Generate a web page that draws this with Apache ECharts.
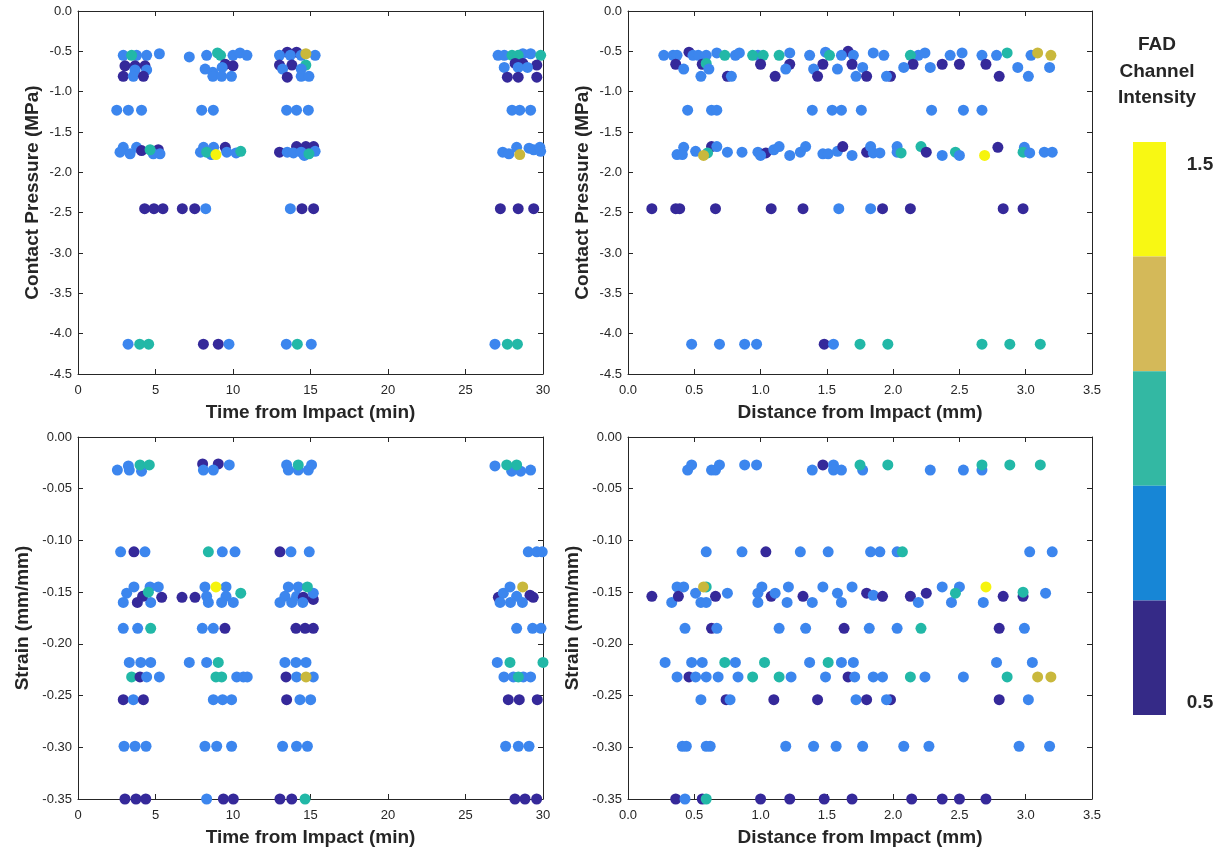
<!DOCTYPE html>
<html>
<head>
<meta charset="utf-8">
<script src="https://cdn.jsdelivr.net/npm/echarts@6/dist/echarts.min.js"></script>
<style>
  html, body { margin: 0; padding: 0; background: #ffffff; }
  #chart { width: 1222px; height: 856px; }
</style>
</head>
<body>
<div id="chart"></div>
<script>
// Each point: [x, y, FAD channel intensity]

// Contact pressure (MPa) against time from impact (min)
const pressureByTime = [
  [2.92,-0.55,0.8],[3.78,-0.55,0.8],[4.43,-0.55,0.8],[5.25,-0.53,0.8],[3.46,-0.55,1.0],
  [3.03,-0.68,0.6],[3.68,-0.68,0.6],[4.32,-0.68,0.6],
  [3.68,-0.73,0.8],[4.43,-0.73,0.8],
  [2.92,-0.81,0.6],[3.57,-0.81,0.8],[4.22,-0.81,0.6],
  [7.18,-0.57,0.8],[8.3,-0.55,0.8],[10.0,-0.55,0.8],[10.45,-0.52,0.8],[10.9,-0.55,0.8],[9.0,-0.52,1.0],[9.2,-0.55,1.0],
  [9.5,-0.66,0.6],[10.0,-0.68,0.6],
  [8.2,-0.72,0.8],[8.7,-0.76,0.8],[9.3,-0.7,0.8],
  [8.7,-0.81,0.8],[9.27,-0.81,0.8],[9.9,-0.81,0.8],
  [13.5,-0.51,0.6],[14.1,-0.51,0.6],[13.0,-0.55,0.8],[13.7,-0.55,0.8],[14.4,-0.55,0.8],[15.3,-0.55,0.8],[14.7,-0.53,1.2],
  [13.0,-0.67,0.6],[13.8,-0.67,0.6],[14.7,-0.67,1.0],
  [13.2,-0.72,0.8],[14.4,-0.72,0.8],
  [13.5,-0.82,0.6],[14.4,-0.81,0.8],[14.9,-0.81,0.8],
  [27.1,-0.55,0.8],[27.5,-0.55,0.8],[28.7,-0.53,0.8],[29.2,-0.53,0.8],[28.0,-0.55,1.0],[28.4,-0.55,1.0],[29.85,-0.55,1.0],
  [28.2,-0.65,0.6],[28.7,-0.65,0.6],[29.6,-0.67,0.6],
  [27.5,-0.7,0.8],[28.4,-0.7,0.8],[29.0,-0.7,0.8],
  [27.7,-0.82,0.6],[28.4,-0.82,0.6],[29.6,-0.82,0.6],
  [2.5,-1.23,0.8],[3.25,-1.23,0.8],[4.1,-1.23,0.8],[7.98,-1.23,0.8],[8.73,-1.23,0.8],
  [13.46,-1.23,0.8],[14.1,-1.23,0.8],[14.86,-1.23,0.8],[28.0,-1.23,0.8],[28.5,-1.23,0.8],[29.2,-1.23,0.8],
  [2.92,-1.69,0.8],[3.78,-1.69,0.8],[2.71,-1.75,0.8],[3.36,-1.77,0.8],[4.1,-1.73,0.6],[5.18,-1.72,0.6],
  [4.86,-1.77,0.8],[5.29,-1.77,0.8],[4.65,-1.72,1.0],
  [8.1,-1.69,0.8],[8.75,-1.69,0.8],[9.5,-1.69,0.6],[7.9,-1.75,0.8],[8.6,-1.78,0.8],[9.6,-1.75,0.8],
  [10.2,-1.76,0.8],[8.3,-1.75,1.0],[10.5,-1.74,1.0],[8.9,-1.78,1.4],
  [13.0,-1.75,0.6],[14.1,-1.68,0.6],[14.7,-1.68,0.6],[15.2,-1.68,0.6],[13.5,-1.75,0.8],[13.9,-1.76,0.8],
  [14.4,-1.75,0.8],[14.6,-1.79,0.8],[15.3,-1.74,0.8],[14.9,-1.77,1.0],
  [27.4,-1.75,0.8],[27.8,-1.77,0.8],[28.3,-1.69,0.8],[29.1,-1.7,0.8],[29.4,-1.72,0.8],[29.8,-1.69,0.8],
  [29.85,-1.74,0.8],[28.5,-1.78,1.2],
  [4.3,-2.45,0.6],[4.9,-2.45,0.6],[5.48,-2.45,0.6],[6.73,-2.45,0.6],[7.53,-2.45,0.6],[8.24,-2.45,0.8],
  [13.7,-2.45,0.8],[14.45,-2.45,0.6],[15.2,-2.45,0.6],[27.25,-2.45,0.6],[28.4,-2.45,0.6],[29.4,-2.45,0.6],
  [3.23,-4.13,0.8],[3.98,-4.13,1.0],[4.56,-4.13,1.0],[8.09,-4.13,0.6],[9.05,-4.13,0.6],[9.74,-4.13,0.8],
  [13.44,-4.13,0.8],[14.15,-4.13,1.0],[15.05,-4.13,0.8],[26.9,-4.13,0.8],[27.7,-4.13,1.0],[28.35,-4.13,1.0]
];

// Contact pressure (MPa) against distance from impact (mm)
const pressureByDistance = [
  [0.27,-0.55,0.8],[0.34,-0.55,0.8],[0.37,-0.55,0.8],[0.46,-0.51,0.6],[0.49,-0.55,0.8],[0.53,-0.55,0.8],
  [0.59,-0.55,0.8],[0.67,-0.52,0.8],[0.73,-0.55,1.0],[0.81,-0.55,0.8],[0.84,-0.52,0.8],[0.98,-0.55,0.8],
  [0.94,-0.55,1.0],[1.02,-0.55,1.0],[1.14,-0.55,1.0],[1.22,-0.52,0.8],[1.37,-0.55,0.8],[1.49,-0.51,0.8],
  [1.52,-0.55,1.0],[1.66,-0.5,0.6],[1.61,-0.55,0.8],[1.70,-0.55,0.8],
  [0.36,-0.66,0.6],[0.56,-0.66,0.6],[1.0,-0.66,0.6],[1.22,-0.66,0.6],[1.47,-0.66,0.6],[1.69,-0.66,0.6],[0.59,-0.65,1.0],
  [0.42,-0.72,0.8],[0.61,-0.72,0.8],[1.19,-0.72,0.8],[1.40,-0.72,0.8],[1.58,-0.72,0.8],
  [0.55,-0.81,0.8],[0.75,-0.81,0.6],[0.78,-0.81,0.8],[1.11,-0.81,0.6],[1.43,-0.81,0.6],[1.72,-0.81,0.8],
  [1.85,-0.52,0.8],[1.93,-0.55,0.8],[2.19,-0.55,0.8],[2.13,-0.55,1.0],[2.24,-0.52,0.8],[2.43,-0.55,0.8],
  [2.52,-0.52,0.8],[2.67,-0.55,0.8],[2.78,-0.55,0.8],[2.86,-0.52,1.0],[3.04,-0.55,0.8],[3.09,-0.52,1.2],[3.19,-0.55,1.2],
  [2.15,-0.66,0.6],[2.37,-0.66,0.6],[2.50,-0.66,0.6],[2.70,-0.66,0.6],
  [1.77,-0.7,0.8],[2.08,-0.7,0.8],[2.28,-0.7,0.8],[2.94,-0.7,0.8],[3.18,-0.7,0.8],
  [1.80,-0.81,0.6],[1.98,-0.81,0.6],[1.95,-0.81,0.8],[2.80,-0.81,0.6],[3.02,-0.81,0.8],
  [0.45,-1.23,0.8],[0.63,-1.23,0.8],[0.67,-1.23,0.8],[1.39,-1.23,0.8],[1.54,-1.23,0.8],[1.61,-1.23,0.8],
  [1.76,-1.23,0.8],[2.29,-1.23,0.8],[2.53,-1.23,0.8],[2.67,-1.23,0.8],
  [0.42,-1.69,0.8],[0.37,-1.78,0.8],[0.41,-1.78,0.8],[0.51,-1.74,0.8],[0.63,-1.68,0.6],[0.67,-1.68,0.8],
  [0.60,-1.76,1.0],[0.57,-1.79,1.2],[0.75,-1.75,0.8],[0.86,-1.75,0.8],[0.98,-1.75,0.8],[1.04,-1.76,0.6],
  [1.0,-1.79,0.8],[1.10,-1.72,0.8],[1.14,-1.68,0.8],[1.22,-1.79,0.8],[1.30,-1.75,0.8],[1.34,-1.68,0.8],
  [1.47,-1.77,0.8],[1.51,-1.77,0.8],[1.58,-1.74,0.8],[1.62,-1.68,0.6],[1.69,-1.79,0.8],
  [1.80,-1.75,0.6],[1.83,-1.68,0.8],[1.85,-1.76,0.8],[1.90,-1.76,0.8],[2.03,-1.68,0.8],[2.03,-1.75,0.8],
  [2.06,-1.76,1.0],[2.21,-1.68,1.0],[2.25,-1.75,0.6],[2.37,-1.79,0.8],[2.47,-1.75,1.0],[2.50,-1.79,0.8],
  [2.69,-1.79,1.4],[2.79,-1.69,0.6],[2.99,-1.69,0.8],[2.98,-1.75,1.0],[3.03,-1.76,0.8],[3.14,-1.75,0.8],[3.20,-1.75,0.8],
  [0.18,-2.45,0.6],[0.36,-2.45,0.6],[0.39,-2.45,0.6],[0.66,-2.45,0.6],[1.08,-2.45,0.6],[1.32,-2.45,0.6],
  [1.59,-2.45,0.8],[1.83,-2.45,0.8],[1.92,-2.45,0.6],[2.13,-2.45,0.6],[2.83,-2.45,0.6],[2.98,-2.45,0.6],
  [0.48,-4.13,0.8],[0.69,-4.13,0.8],[0.88,-4.13,0.8],[0.97,-4.13,0.8],[1.48,-4.13,0.6],[1.55,-4.13,0.8],
  [1.75,-4.13,1.0],[1.96,-4.13,1.0],[2.67,-4.13,1.0],[2.88,-4.13,1.0],[3.11,-4.13,1.0]
];

// Strain (mm/mm) against time from impact (min)
const strainByTime = [
  [2.54,-0.032,0.8],[3.25,-0.028,0.8],[3.31,-0.032,0.8],[4.1,-0.033,0.8],[4.0,-0.027,1.0],[4.6,-0.027,1.0],
  [8.04,-0.026,0.6],[9.05,-0.026,0.6],[8.09,-0.032,0.8],[8.73,-0.032,0.8],[9.76,-0.027,0.8],
  [13.46,-0.027,0.8],[13.57,-0.032,0.8],[14.21,-0.032,0.8],[14.86,-0.032,0.8],[15.07,-0.027,0.8],[14.21,-0.027,1.0],
  [26.9,-0.028,0.8],[27.98,-0.033,0.8],[28.56,-0.033,0.8],[29.2,-0.032,0.8],[27.66,-0.027,1.0],[28.3,-0.027,1.0],
  [2.75,-0.111,0.8],[3.61,-0.111,0.6],[4.32,-0.111,0.8],[8.41,-0.111,1.0],[9.31,-0.111,0.8],[10.13,-0.111,0.8],
  [13.03,-0.111,0.6],[13.74,-0.111,0.8],[14.92,-0.111,0.8],[29.05,-0.111,0.8],[29.6,-0.111,0.8],[29.95,-0.111,0.8],
  [3.61,-0.145,0.8],[4.65,-0.145,0.8],[5.18,-0.145,0.8],[3.14,-0.151,0.8],[2.92,-0.160,0.8],[4.69,-0.160,0.8],
  [4.17,-0.154,0.6],[5.4,-0.155,0.6],[3.83,-0.160,0.6],[4.54,-0.150,1.0],
  [6.71,-0.155,0.6],[7.55,-0.155,0.6],[8.19,-0.145,0.8],[9.55,-0.145,0.8],[8.3,-0.154,0.8],[9.55,-0.154,0.8],
  [8.41,-0.160,0.8],[9.27,-0.160,0.8],[10.02,-0.160,0.8],[10.5,-0.151,1.0],[8.9,-0.145,1.4],
  [13.57,-0.145,0.8],[14.21,-0.145,0.8],[13.35,-0.154,0.8],[14.1,-0.154,0.8],[14.54,-0.155,0.6],[15.18,-0.157,0.6],
  [15.18,-0.151,0.8],[13.03,-0.160,0.8],[13.79,-0.160,0.8],[14.5,-0.160,0.8],[14.8,-0.145,1.0],
  [27.12,-0.155,0.6],[27.44,-0.151,0.8],[27.87,-0.145,0.8],[28.3,-0.154,0.8],[29.16,-0.153,0.6],[29.37,-0.155,0.6],
  [27.23,-0.160,0.8],[27.9,-0.160,0.8],[28.67,-0.160,0.8],[28.69,-0.145,1.2],
  [2.92,-0.185,0.8],[3.85,-0.185,0.8],[4.69,-0.185,1.0],[8.02,-0.185,0.8],[8.73,-0.185,0.8],[9.48,-0.185,0.6],
  [14.06,-0.185,0.6],[14.65,-0.185,0.6],[15.18,-0.185,0.6],[28.3,-0.185,0.8],[29.33,-0.185,0.8],[29.87,-0.185,0.8],
  [3.31,-0.218,0.8],[4.05,-0.218,0.8],[4.69,-0.218,0.8],[7.18,-0.218,0.8],[8.3,-0.218,0.8],[9.05,-0.218,1.0],
  [13.35,-0.218,0.8],[14.06,-0.218,0.8],[14.71,-0.218,0.8],[27.05,-0.218,0.8],[27.87,-0.218,1.0],[30.0,-0.218,1.0],
  [3.46,-0.232,1.0],[4.0,-0.232,0.6],[4.43,-0.232,0.8],[5.25,-0.232,0.8],[8.9,-0.232,1.0],[9.27,-0.232,1.0],
  [10.24,-0.232,0.8],[10.67,-0.232,0.8],[10.92,-0.232,0.8],[13.42,-0.232,0.6],[14.1,-0.232,0.8],[15.18,-0.232,0.8],
  [14.71,-0.232,1.2],[27.48,-0.232,0.8],[28.09,-0.232,0.8],[28.73,-0.232,0.8],[29.2,-0.232,0.8],[28.41,-0.232,1.0],
  [2.92,-0.254,0.6],[3.57,-0.254,0.8],[4.22,-0.254,0.6],[8.73,-0.254,0.8],[9.33,-0.254,0.8],[9.91,-0.254,0.8],
  [13.46,-0.254,0.6],[14.32,-0.254,0.8],[15.01,-0.254,0.8],[27.76,-0.254,0.6],[28.47,-0.254,0.6],[29.63,-0.254,0.6],
  [2.97,-0.299,0.8],[3.68,-0.299,0.8],[4.39,-0.299,0.8],[8.19,-0.299,0.8],[8.95,-0.299,0.8],[9.91,-0.299,0.8],
  [13.2,-0.299,0.8],[14.1,-0.299,0.8],[14.8,-0.299,0.8],[27.59,-0.299,0.8],[28.41,-0.299,0.8],[29.1,-0.299,0.8],
  [3.03,-0.350,0.6],[3.74,-0.350,0.6],[4.37,-0.350,0.6],[8.3,-0.350,0.8],[9.38,-0.350,0.6],[10.02,-0.350,0.6],
  [13.03,-0.350,0.6],[13.79,-0.350,0.6],[14.65,-0.350,1.0],[28.19,-0.350,0.6],[28.84,-0.350,0.6],[29.59,-0.350,0.6]
];

// Strain (mm/mm) against distance from impact (mm)
const strainByDistance = [
  [0.45,-0.032,0.8],[0.48,-0.027,0.8],[0.63,-0.032,0.8],[0.66,-0.032,0.8],[0.69,-0.027,0.8],[0.88,-0.027,0.8],
  [0.97,-0.027,0.8],[1.39,-0.032,0.8],[1.47,-0.027,0.6],[1.55,-0.027,0.8],[1.55,-0.032,0.8],[1.61,-0.032,0.8],
  [1.77,-0.032,0.8],[1.75,-0.027,1.0],[1.96,-0.027,1.0],[2.28,-0.032,0.8],[2.53,-0.032,0.8],[2.67,-0.032,0.8],
  [2.67,-0.027,1.0],[2.88,-0.027,1.0],[3.11,-0.027,1.0],
  [0.59,-0.111,0.8],[0.86,-0.111,0.8],[1.04,-0.111,0.6],[1.30,-0.111,0.8],[1.51,-0.111,0.8],[1.83,-0.111,0.8],
  [1.90,-0.111,0.8],[2.03,-0.111,0.8],[2.07,-0.111,1.0],[3.03,-0.111,0.8],[3.20,-0.111,0.8],
  [0.18,-0.154,0.6],[0.33,-0.160,0.8],[0.37,-0.145,0.8],[0.42,-0.145,0.8],[0.38,-0.154,0.6],[0.51,-0.151,0.8],
  [0.55,-0.160,0.8],[0.59,-0.160,0.8],[0.59,-0.145,1.0],[0.57,-0.145,1.2],[0.66,-0.154,0.6],[0.75,-0.151,0.8],
  [0.98,-0.151,0.8],[1.01,-0.145,0.8],[0.98,-0.160,0.8],[1.08,-0.154,0.6],[1.11,-0.151,0.8],[1.21,-0.145,0.8],
  [1.20,-0.160,0.8],[1.32,-0.154,0.6],[1.39,-0.160,0.8],[1.47,-0.145,0.8],[1.58,-0.151,0.8],[1.61,-0.160,0.8],
  [1.69,-0.145,0.8],[1.80,-0.151,0.6],[1.85,-0.153,0.8],[1.92,-0.154,0.6],[2.13,-0.154,0.6],[2.19,-0.160,0.8],
  [2.25,-0.151,0.6],[2.37,-0.145,0.8],[2.50,-0.145,0.8],[2.44,-0.160,0.8],[2.47,-0.151,1.0],[2.70,-0.145,1.4],
  [2.68,-0.160,0.8],[2.83,-0.154,0.6],[2.98,-0.154,0.6],[2.98,-0.150,1.0],[3.15,-0.151,0.8],
  [0.43,-0.185,0.8],[0.63,-0.185,0.6],[0.67,-0.185,0.8],[1.14,-0.185,0.8],[1.34,-0.185,0.8],[1.63,-0.185,0.6],
  [1.82,-0.185,0.8],[2.03,-0.185,0.8],[2.21,-0.185,1.0],[2.80,-0.185,0.6],[2.99,-0.185,0.8],
  [0.28,-0.218,0.8],[0.48,-0.218,0.8],[0.56,-0.218,0.8],[0.73,-0.218,1.0],[0.81,-0.218,0.8],[1.03,-0.218,1.0],
  [1.37,-0.218,0.8],[1.51,-0.218,1.0],[1.61,-0.218,0.8],[1.70,-0.218,0.8],[2.78,-0.218,0.8],[3.05,-0.218,0.8],
  [0.37,-0.232,0.8],[0.46,-0.232,0.6],[0.51,-0.232,0.8],[0.59,-0.232,0.8],[0.68,-0.232,0.8],[0.83,-0.232,0.8],
  [0.94,-0.232,1.0],[1.14,-0.232,1.0],[1.23,-0.232,0.8],[1.49,-0.232,0.8],[1.66,-0.232,0.6],[1.71,-0.232,0.8],
  [1.85,-0.232,0.8],[1.92,-0.232,0.8],[2.13,-0.232,1.0],[2.24,-0.232,0.8],[2.53,-0.232,0.8],[2.86,-0.232,1.0],
  [3.09,-0.232,1.2],[3.19,-0.232,1.2],
  [0.55,-0.254,0.8],[0.74,-0.254,0.6],[0.77,-0.254,0.8],[1.10,-0.254,0.6],[1.43,-0.254,0.6],[1.72,-0.254,0.8],
  [1.80,-0.254,0.6],[1.98,-0.254,0.6],[1.95,-0.254,0.8],[2.80,-0.254,0.6],[3.02,-0.254,0.8],
  [0.41,-0.299,0.8],[0.44,-0.299,0.8],[0.59,-0.299,0.8],[0.62,-0.299,0.8],[1.19,-0.299,0.8],[1.40,-0.299,0.8],
  [1.57,-0.299,0.8],[1.77,-0.299,0.8],[2.08,-0.299,0.8],[2.27,-0.299,0.8],[2.95,-0.299,0.8],[3.18,-0.299,0.8],
  [0.36,-0.350,0.6],[0.43,-0.350,0.8],[0.56,-0.350,0.6],[0.59,-0.350,1.0],[1.00,-0.350,0.6],[1.22,-0.350,0.6],
  [1.48,-0.350,0.6],[1.69,-0.350,0.6],[2.14,-0.350,0.6],[2.37,-0.350,0.6],[2.50,-0.350,0.6],[2.70,-0.350,0.6]
];

// Axis ranges: [min, max, interval]
const timeRange = [0, 30, 5];
const distanceRange = [0, 3.5, 0.5];
const pressureRange = [-4.5, 0, 0.5];
const strainRange = [-0.35, 0, 0.05];

// Colour classes of the FAD channel intensity scale
const intensityBreaks = [0.5, 0.7, 0.9, 1.1, 1.3, 1.5];
const markerColors = ['#35299a', '#3c86ee', '#22b8a7', '#c9b83c', '#f6f40e'];
const scaleColors = ['#352a87', '#1786d6', '#33b8a3', '#d4b959', '#f8f813'];

const INK = '#262626';
const FONT = '"Liberation Sans", Arial, Helvetica, sans-serif';

const panels = [
  { grid: { left: 78, top: 11, width: 465, height: 363 }, x: timeRange, xDigits: 0, y: pressureRange, yDigits: 1,
    xName: 'Time from Impact (min)', yName: 'Contact Pressure (MPa)', yGap: 36, data: pressureByTime },
  { grid: { left: 628, top: 11, width: 464, height: 363 }, x: distanceRange, xDigits: 1, y: pressureRange, yDigits: 1,
    xName: 'Distance from Impact (mm)', yName: 'Contact Pressure (MPa)', yGap: 36, data: pressureByDistance },
  { grid: { left: 78, top: 437, width: 465, height: 362 }, x: timeRange, xDigits: 0, y: strainRange, yDigits: 2,
    xName: 'Time from Impact (min)', yName: 'Strain (mm/mm)', yGap: 46, data: strainByTime },
  { grid: { left: 628, top: 437, width: 464, height: 362 }, x: distanceRange, xDigits: 1, y: strainRange, yDigits: 2,
    xName: 'Distance from Impact (mm)', yName: 'Strain (mm/mm)', yGap: 46, data: strainByDistance }
];

function makeAxes(kind, gridIndex, range, digits, name, nameGap) {
  const base = {
    type: 'value', gridIndex: gridIndex,
    min: range[0], max: range[1], interval: range[2],
    axisLine: { show: true, onZero: false, lineStyle: { color: INK, width: 1 } },
    axisTick: { show: true, inside: true, length: 5, lineStyle: { color: INK, width: 1 } },
    splitLine: { show: false }
  };
  const main = Object.assign({}, base, {
    position: kind === 'x' ? 'bottom' : 'left',
    name: name, nameLocation: 'middle', nameGap: nameGap,
    nameTextStyle: { fontFamily: FONT, fontWeight: 'bold', fontSize: 19, color: INK },
    axisLabel: {
      show: true, fontFamily: FONT, fontSize: 13, color: INK,
      margin: kind === 'x' ? 10 : 6,
      formatter: function (v) { return v.toFixed(digits); }
    }
  });
  const mirror = Object.assign({}, base, {
    position: kind === 'x' ? 'top' : 'right',
    axisLabel: { show: false }
  });
  return [main, mirror];
}

const grids = [], xAxes = [], yAxes = [], series = [];
panels.forEach(function (p, i) {
  grids.push(Object.assign({ containLabel: false }, p.grid));
  xAxes.push.apply(xAxes, makeAxes('x', i, p.x, p.xDigits, p.xName, 29));
  yAxes.push.apply(yAxes, makeAxes('y', i, p.y, p.yDigits, p.yName, p.yGap));
  series.push({
    type: 'scatter', xAxisIndex: 2 * i, yAxisIndex: 2 * i,
    data: p.data, symbol: 'circle', symbolSize: 11, clip: false,
    itemStyle: { opacity: 1 }, emphasis: { disabled: true }
  });
});

const pieces = intensityBreaks.slice(0, -1).map(function (lo, i) {
  return i === intensityBreaks.length - 2
    ? { gte: lo, lte: intensityBreaks[i + 1] }
    : { gte: lo, lt: intensityBreaks[i + 1] };
});

const chart = echarts.init(document.getElementById('chart'), null, { renderer: 'canvas' });
chart.setOption({
  animation: false,
  backgroundColor: '#ffffff',
  grid: grids,
  xAxis: xAxes,
  yAxis: yAxes,
  series: series,
  visualMap: {
    type: 'piecewise', dimension: 2, seriesIndex: [0, 1, 2, 3],
    pieces: pieces,
    orient: 'vertical', left: 1133, top: 142,
    itemWidth: 33, itemHeight: 114.6, itemGap: 0, itemSymbol: 'rect',
    showLabel: false, padding: 0, hoverLink: false, selectedMode: false,
    target: { inRange: { color: markerColors } },
    controller: { inRange: { color: scaleColors } }
  },
  graphic: [
    { type: 'text', left: null, style: {
        text: 'FAD\nChannel\nIntensity', x: 1157, y: 32, align: 'center', verticalAlign: 'top',
        font: 'bold 19px ' + FONT, lineHeight: 26.5, fill: INK } },
    { type: 'text', style: {
        text: '1.5', x: 1200, y: 165, align: 'center', verticalAlign: 'middle',
        font: 'bold 19px ' + FONT, fill: INK } },
    { type: 'text', style: {
        text: '0.5', x: 1200, y: 703, align: 'center', verticalAlign: 'middle',
        font: 'bold 19px ' + FONT, fill: INK } }
  ]
});
</script>
</body>
</html>
